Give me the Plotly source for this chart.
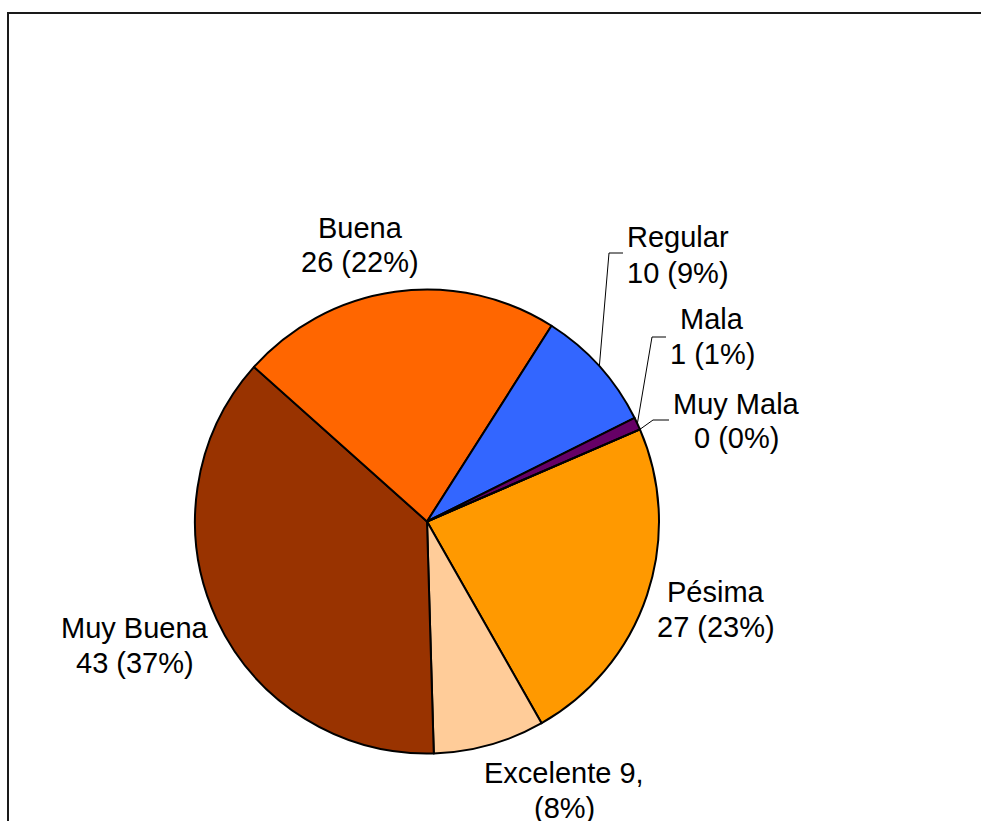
import math
import plotly.graph_objects as go

# ---- data ----
categories = ["Pésima", "Excelente", "Muy Buena", "Buena", "Regular", "Mala", "Muy Mala"]
counts = [27, 9, 43, 26, 10, 1, 0]
label_line1 = ["Pésima", "Excelente 9,", "Muy Buena", "Buena", "Regular", "Mala", "Muy Mala"]
label_line2 = ["27 (23%)", "(8%)", "43 (37%)", "26 (22%)", "10 (9%)", "1 (1%)", "0 (0%)"]
colors = ["#FF9900", "#FFCC99", "#993300", "#FF6600", "#3366FF", "#660066", "#FFFF99"]

# ---- layout (pixels in a 981x821 page) ----
W, H = 981, 821
CX, CY, R = 427, 521.5, 232
ROTATION = 66.6
FONT_SIZE = 29
LINE_GAP = 35
# label block centres (pixels)
label_pos = [(716, 609), (564, 790), (135, 645), (360, 245), (678, 255), (712, 336), (736, 421)]
# leader lines: category -> (elbow x, end x, y)
leaders = {"Regular": (609, 623, 253), "Mala": (652, 666, 337), "Muy Mala": (653, 669, 420)}


def px(x):
    return x / W


def py(y):
    return 1 - y / H


fig = go.Figure(
    go.Pie(
        labels=categories,
        values=counts,
        sort=False,
        direction="clockwise",
        rotation=ROTATION,
        marker=dict(colors=colors, line=dict(color="black", width=2)),
        textinfo="none",
        hoverinfo="label+value+percent",
        domain=dict(x=[px(CX - R), px(CX + R)], y=[py(CY + R), py(CY - R)]),
        showlegend=False,
    )
)

annotations = []
for l1, l2, (x, y) in zip(label_line1, label_line2, label_pos):
    for txt, yy in ((l1, y - LINE_GAP / 2), (l2, y + LINE_GAP / 2)):
        annotations.append(
            dict(
                x=px(x), y=py(yy), xref="paper", yref="paper",
                text=txt, showarrow=False, xanchor="center", yanchor="middle",
                align="center",
                font=dict(family="Liberation Sans, Arial", size=FONT_SIZE, color="black"),
            )
        )

# leader lines from slice mid-angles
total = sum(counts)
shapes = []
cum = 0
for cat, v in zip(categories, counts):
    start = ROTATION + 360 * cum / total
    cum += v
    end = ROTATION + 360 * cum / total
    mid = math.radians((start + end) / 2)
    if cat in leaders:
        ex, ax, ly = leaders[cat]
        sx = CX + R * math.sin(mid)
        sy = CY - R * math.cos(mid)
        path = f"M {px(sx)},{py(sy)} L {px(ex)},{py(ly)} L {px(ax)},{py(ly)}"
        shapes.append(dict(type="path", path=path, xref="paper", yref="paper",
                           line=dict(color="black", width=1)))

# outer frame (extends beyond the visible area)
shapes.append(dict(type="rect", xref="paper", yref="paper",
                   x0=px(8), x1=1.05, y0=-0.05, y1=py(13),
                   line=dict(color="#1a1a1a", width=2)))

fig.update_layout(
    width=W, height=H,
    margin=dict(l=0, r=0, t=0, b=0),
    paper_bgcolor="white", plot_bgcolor="white",
    annotations=annotations, shapes=shapes,
    font=dict(family="Liberation Sans, Arial"),
)

fig.write_html(
    "out.html",
    config={"displayModeBar": False},
    post_script="document.body.style.margin='0';document.body.style.overflow='hidden';",
)
